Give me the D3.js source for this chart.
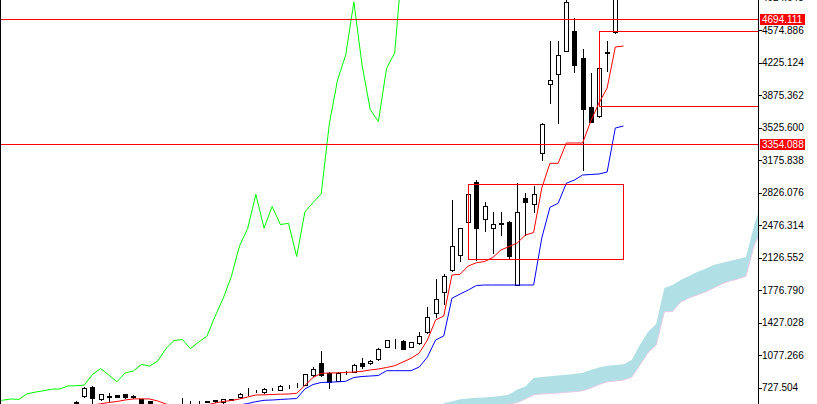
<!DOCTYPE html>
<html><head><meta charset="utf-8">
<script src="https://cdn.jsdelivr.net/npm/d3@7"></script>
<style>html,body{margin:0;padding:0;background:#fff;}svg{display:block;}</style>
</head><body><svg id="c" width="817" height="404"></svg>
<script>
// ---- data (bar index k = 0..67) ----
const opens = [573.7,638.2,738.2,602.7,632.9,645.7,656.5,638.2,600.6,579.1,530.7,509.2,519.9,582.3,584.4,576.9,576.9,582.3,573.7,599.5,624.2,678.0,692.0,678.0,716.8,702.8,747.9,753.3,756.5,864.1,989.9,888.8,799.6,906.0,899.6,987.8,989.9,1036.2,1168.5,1244.9,1233.0,1168.5,1205.1,1323.4,1534.2,1760.1,1993.5,2154.8,2506.5,2943.2,2538.8,2448.5,2492.6,2513.0,1832.1,2764.7,2700.1,3248.7,3994.1,4101.7,4352.3,4567.4,4270.5,3743.5,3649.9,4332.9,4556.6,5380.0];
const highs = [579.1,740.4,745.8,665.1,667.3,652.2,659.7,643.7,606.0,584.4,541.4,530.7,541.4,616.7,586.6,582.3,584.4,598.4,611.3,608.1,668.3,721.0,708.1,718.9,721.0,751.2,751.2,772.7,874.9,944.8,1125.5,896.4,893.1,909.3,982.4,1043.7,1020.1,1154.5,1240.6,1251.3,1238.4,1224.4,1329.8,1598.7,1893.5,1950.5,2746.4,2445.2,2810.9,2961.5,2724.9,2620.6,2620.6,2518.4,2932.5,2818.5,2900.2,3574.6,4456.6,4456.6,4983.6,4700.8,4367.3,4109.2,4166.2,4456.6,5489.2,5450.0];
const lows = [509.2,622.2,519.9,595.2,587.7,622.2,619.9,616.7,530.7,546.8,498.4,487.6,498.4,546.8,541.4,568.3,570.5,573.7,568.3,595.2,618.9,649.0,675.9,672.7,704.9,697.4,718.9,735.0,751.2,858.7,858.7,721.0,794.2,880.2,896.4,936.2,984.6,1030.8,1165.3,1151.3,1145.9,1165.3,1199.7,1318.0,1491.2,1627.8,1982.7,2093.5,2501.2,2101.0,2413.0,2179.6,2369.9,2124.7,1826.8,2369.9,2620.6,3176.6,3793.0,3577.8,4346.9,4126.4,3069.1,3585.4,3644.5,4137.1,4542.7,5350.0];
const closes = [541.4,727.5,613.5,656.5,630.7,630.7,624.2,622.2,541.4,557.5,509.2,519.9,530.7,584.4,583.3,574.8,579.1,593.1,606.0,601.7,661.9,680.2,694.2,711.4,713.5,745.8,749.0,755.4,869.5,934.0,864.1,792.0,885.6,907.1,977.0,960.9,1014.7,1149.1,1235.2,1245.9,1149.1,1219.0,1280.4,1493.3,1686.9,1923.6,2251.6,2439.9,2805.6,2445.2,2676.5,2482.9,2494.7,2138.7,2617.3,2719.5,2810.9,3569.2,4037.1,4306.0,4876.1,4198.5,3719.8,3590.7,4160.8,4329.7,5381.6,5400.0];
const tenkan = [530.7,530.7,541.4,554.3,568.3,579.1,595.2,606.0,608.1,606.0,584.4,552.1,530.7,519.9,519.9,525.3,541.4,562.9,579.1,589.8,606.0,627.5,649.0,651.1,654.4,657.6,659.7,667.3,751.2,837.2,882.4,885.6,887.8,891.0,896.4,903.9,917.9,928.7,944.8,964.1,1003.9,1043.7,1100.7,1240.6,1455.7,1498.7,1939.7,1947.2,2036.5,2072.0,2084.9,2127.9,2208.6,2246.2,2283.9,2369.9,2396.8,2875.5,3141.1,3141.1,3359.5,3359.5,3359.5,3596.1,3789.7,3951.1,4392.1,4402.8];
const kijun = [509.2,509.2,509.2,509.2,509.2,509.2,509.2,509.2,509.2,509.2,509.2,509.2,509.2,509.2,509.2,509.2,509.2,509.2,509.2,525.3,541.4,557.5,576.9,592.0,595.2,600.6,606.0,611.3,713.5,761.9,783.4,786.7,791.0,796.4,837.2,848.0,853.3,858.7,910.4,910.4,910.4,910.4,950.1,1057.7,1240.6,1283.6,1689.1,1735.3,1778.4,1826.8,1832.1,1832.1,1832.1,1832.1,1832.1,1832.1,1832.1,2337.7,2667.9,2710.9,2926.0,2961.5,3015.3,3020.7,3026.1,3047.6,3520.8,3542.3];
// Senkou spans for source bars k = 19..58, plotted 26 bars ahead
const senkouFirst = 19, senkouShift = 26;
const senkouA = [562.9,579.1,603.8,611.3,618.9,622.2,629.6,638.2,654.4,708.1,740.4,831.8,842.6,850.1,858.7,866.3,874.9,887.8,917.9,944.8,963.0,971.7,979.2,1025.4,1186.8,1326.6,1412.7,1799.9,1832.1,1885.9,1928.9,1972.0,2004.2,2047.3,2068.8,2090.3,2111.8,2133.3,2477.5,2746.4];
const senkouB = [487.6,498.4,509.2,519.9,525.3,530.7,536.0,541.4,552.1,568.3,606.0,652.2,659.7,665.1,670.5,678.0,684.5,694.2,724.3,761.9,791.0,799.6,810.3,839.4,971.7,1106.1,1186.8,1544.9,1547.1,1649.3,1692.4,1724.6,1756.8,1799.9,1842.9,1875.2,1896.7,1928.9,2262.4,2423.7];
const chikouShift = 26;
const tickLabels = ["727.504","1077.266","1427.028","1776.790","2126.552","2476.314","2826.076","3175.838","3525.600","3875.362","4225.124","4574.886","4924.648"];
const hLines = [4694.111, 3354.088];
const hLineLabels = ["4694.111","3354.088"];
const rects = [
  {k0: 48, k1: 67, p0: 2918.5, p1: 2111.8},
  {k0: 64, k1: 95, p0: 4564.2, p1: 3754.2}
];

// ---- chart ----
const W = 817, H = 404, axisX = 758;
const svg = d3.select("#c");
const x = d3.scaleLinear().domain([0, 67]).range([76.1, 76.1 + 67 * 8.17]);
const y = d3.scaleLinear().domain([727.504, 4574.886]).range([387.7, 30]);
const px = v => Math.round(v) + 0.5;

svg.append("rect").attr("width", W).attr("height", H).attr("fill", "#fff");
svg.append("defs").append("clipPath").attr("id", "clip")
  .append("rect").attr("x", 1).attr("y", 0).attr("width", axisX - 1).attr("height", H);
const plot = svg.append("g").attr("clip-path", "url(#clip)");

// cloud
const cloudData = senkouA.map((a, i) => ({k: senkouFirst + i + senkouShift, a, b: senkouB[i]}));
plot.append("path").datum(cloudData)
  .attr("d", d3.area().x(d => x(d.k)).y0(d => y(d.b)).y1(d => y(d.a)))
  .attr("fill", "#b0e0e6");
plot.append("path").datum(cloudData)
  .attr("d", d3.line().x(d => x(d.k)).y(d => y(d.b)))
  .attr("fill", "none").attr("stroke", "#e6c8e6").attr("stroke-width", 1);

// candles
const bars = opens.map((o, k) => ({k, o, h: highs[k], l: lows[k], c: closes[k]}));
const cg = plot.append("g").attr("shape-rendering", "crispEdges");
cg.selectAll("line.w").data(bars).join("line")
  .attr("x1", d => px(x(d.k))).attr("x2", d => px(x(d.k)))
  .attr("y1", d => Math.round(y(d.h))).attr("y2", d => Math.round(y(d.l)) + 1)
  .attr("stroke", "#000");
cg.selectAll("rect.b").data(bars).join("rect")
  .attr("x", d => Math.round(x(d.k)) - 2 + 0.5)
  .attr("y", d => Math.round(y(Math.max(d.o, d.c))) + 0.5)
  .attr("width", 4)
  .attr("height", d => Math.max(0, Math.round(y(Math.min(d.o, d.c))) - Math.round(y(Math.max(d.o, d.c)))))
  .attr("fill", d => d.c >= d.o ? "#fff" : "#000")
  .attr("stroke", "#000");

// indicator lines
const chikou = closes.map((c, k) => ({k: k - chikouShift, v: c}));
plot.append("path").datum(chikou)
  .attr("d", d3.line().x(d => x(d.k)).y(d => y(d.v)))
  .attr("fill", "none").attr("stroke", "#00ff00").attr("stroke-width", 1);
plot.append("path").datum(tenkan)
  .attr("d", d3.line().x((d, k) => x(k)).y(d => y(d)))
  .attr("fill", "none").attr("stroke", "#ff0000").attr("stroke-width", 1);
plot.append("path").datum(kijun)
  .attr("d", d3.line().x((d, k) => x(k)).y(d => y(d)))
  .attr("fill", "none").attr("stroke", "#0000ff").attr("stroke-width", 1);

// objects
const og = plot.append("g").attr("shape-rendering", "crispEdges");
og.selectAll("line.h").data(hLines).join("line")
  .attr("x1", 0).attr("x2", axisX)
  .attr("y1", d => px(y(d))).attr("y2", d => px(y(d)))
  .attr("stroke", "#ff0000");
og.selectAll("rect.r").data(rects).join("rect")
  .attr("x", d => px(x(d.k0))).attr("y", d => px(y(d.p0)))
  .attr("width", d => Math.round(x(d.k1)) - Math.round(x(d.k0)))
  .attr("height", d => Math.round(y(d.p1)) - Math.round(y(d.p0)))
  .attr("fill", "none").attr("stroke", "#ff0000");

// frame
svg.append("line").attr("x1", 0.5).attr("x2", 0.5).attr("y1", 0).attr("y2", H)
  .attr("stroke", "#000").attr("shape-rendering", "crispEdges");
svg.append("line").attr("x1", axisX + 0.5).attr("x2", axisX + 0.5).attr("y1", 0).attr("y2", H)
  .attr("stroke", "#000").attr("shape-rendering", "crispEdges");

// price axis
const ag = svg.append("g");
const ticks = tickLabels.map(t => +t);
ag.selectAll("line.t").data(ticks).join("line")
  .attr("x1", axisX).attr("x2", axisX + 4)
  .attr("y1", d => px(y(d))).attr("y2", d => px(y(d)))
  .attr("stroke", "#000").attr("shape-rendering", "crispEdges");
ag.selectAll("text.t").data(tickLabels).join("text")
  .attr("x", axisX + 4).attr("y", d => y(+d) + 3.6)
  .attr("font-family", "Liberation Sans, Arial, sans-serif").attr("font-size", 10)
  .attr("fill", "#000").text(d => d);

// price labels of horizontal lines
const lg = svg.append("g");
lg.selectAll("rect").data(hLines).join("rect")
  .attr("x", axisX + 2).attr("y", d => Math.round(y(d)) - 5)
  .attr("width", 45).attr("height", 11).attr("fill", "#ff0000");
lg.selectAll("text").data(hLineLabels).join("text")
  .attr("x", axisX + 4).attr("y", d => y(+d) + 4)
  .attr("font-family", "Liberation Sans, Arial, sans-serif").attr("font-size", 10)
  .attr("fill", "#fff").text(d => d);
</script></body></html>
